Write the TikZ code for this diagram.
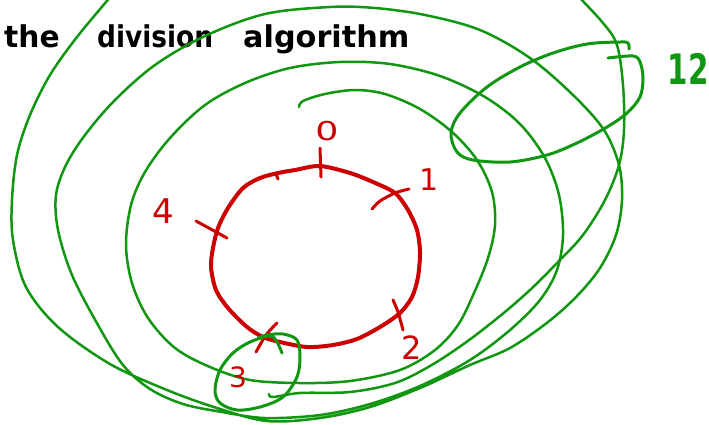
\documentclass[tikz,border=0pt]{standalone}
\usepackage{fontspec}
\newfontfamily\hand{DejaVu Sans}
\definecolor{pgreen}{RGB}{16,150,16}
\definecolor{pred}{RGB}{204,0,0}
\begin{document}
\begin{tikzpicture}[x=1pt,y=-1pt,line cap=round,line join=round,
  gline/.style={draw=pgreen,line width=2.5pt},
  gloop/.style={draw=pgreen,line width=3pt},
  rcirc/.style={draw=pred,line width=4pt},
  rtick/.style={draw=pred,line width=3pt},
  word/.style={anchor=base west,inner sep=0pt,text=black,font=\hand\bfseries\fontsize{30}{34}\selectfont},
  dig/.style={inner sep=0pt,anchor=center,text=pred},
  gdig/.style={inner sep=0pt,anchor=center,text=pgreen}]
\useasboundingbox (0,0) rectangle (709,424);
\clip (0,0) rectangle (709,424);
% title
\node[word] (w1) at (4,47) {\scalebox{0.99}[1]{the}};
\node[word] (w2) at (97,47) {\scalebox{0.88}[1]{division}};
\node[word] (w3) at (243,47) {\scalebox{1.01}[1]{algorithm}};
% green spiral
\draw[gline] plot[smooth,tension=0.55] coordinates {
 (299,107) (303,101) (325,94) (355,90) (385,94) (420,109) (452,132) (477,160)
 (492,192) (495,225) (488,258) (474,293) (458,325) (435,350) (400,370) (350,381)
 (300,383) (250,380) (210,367) (175,348) (148,318) (132,283) (126,245) (131,205)
 (145,172) (170,138) (205,105) (245,83) (290,68) (340,62) (390,64) (440,76)
 (485,97) (520,124) (545,158) (559,195) (563,235) (557,270) (540,300) (510,330)
 (470,360) (420,386) (370,404) (320,415) (265,418) (222,412) (183,404) (150,389)
 (123,365) (98,325) (72,275) (58,230) (56,195) (66,165) (85,135) (115,100)
 (155,65) (205,36) (265,14) (330,7) (375,8) (425,15) (480,30) (530,58)
 (573,95) (604,130) (619,165) (622,200) (616,235) (600,268) (577,296) (548,322)
 (510,348) (470,365) (420,388) (370,407) (320,418) (267,421) (217,408) (167,390)
 (110,364) (58,327) (26,287) (13,240) (12,200) (17,155) (30,115) (50,75)
 (77,37) (112,-5)};
\draw[gline] plot[smooth,tension=0.55] coordinates {
 (577,-5) (603,23) (617,45) (623,85) (624,130) (619,165) (605,200) (583,235)
 (558,262) (530,290) (500,316) (465,343) (430,366) (395,383) (350,392) (300,393)
 (273,397) (269,394)};
% loop round 12
\draw[gloop] plot[smooth,tension=0.55] coordinates {
 (608,58) (633,56) (640,62) (643,78) (640,97) (627,113) (607,127) (577,143)
 (547,155) (510,162) (473,160) (457,152) (451,133) (460,113) (487,87) (520,67)
 (553,53) (587,44) (620,42) (628,43) (629,49)};
% red circle
\draw[rcirc] plot[smooth cycle,tension=0.5] coordinates {
 (320,166) (350,173) (373,182) (395,193) (408,210) (417,230) (420,252) (418,277)
 (412,297) (400,313) (380,327) (357,339) (333,345) (307,347) (280,342) (263,337)
 (247,327) (228,308) (216,290) (211,267) (213,248) (218,228) (228,208) (243,188)
 (260,178) (278,173) (295,170)};
% ticks
\draw[rtick] (320,148) -- (321,177);
\draw[rtick] plot[smooth] coordinates {(372,209) (380,201) (395,193) (409,189)};
\draw[rtick] (196,221) -- (227,238);
\draw[rtick] plot[smooth] coordinates {(393,300) (398,312) (403,330)};
\draw[rtick] plot[smooth] coordinates {(277,323) (266,335) (256,352)};
\draw[rtick] (276,174) -- (278,179);
% loop round 3
\draw[gloop] plot[smooth,tension=0.55] coordinates {
 (282,353) (277,342) (270,336) (250,342) (233,353) (220,370) (215,390) (220,403)
 (237,410) (260,407) (283,397) (297,377) (300,357) (297,340) (283,334) (267,335)
 (258,338)};
% labels
\node[dig,font=\hand\fontsize{26}{26}\selectfont] (n0) at (327,131) {\scalebox{1.4}[1]{0}};
\node[dig,font=\hand\fontsize{30}{30}\selectfont] (n1) at (429,180) {1};
\node[dig,font=\hand\fontsize{34}{34}\selectfont] (n4) at (163,211) {4};
\node[dig,font=\hand\fontsize{32}{32}\selectfont] (n2) at (412,348) {2};
\node[dig,font=\hand\fontsize{28}{28}\selectfont] (n3) at (238,377) {3};
\node[gdig,font=\hand\bfseries\fontsize{42}{42}\selectfont] (n12) at (688,69) {\scalebox{0.7}[1]{12}};
\end{tikzpicture}
\end{document}
